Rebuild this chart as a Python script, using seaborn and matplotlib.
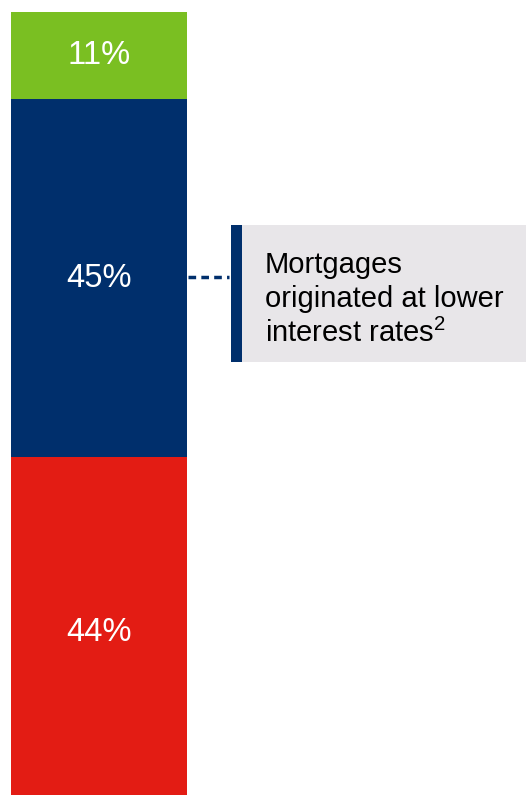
import matplotlib
matplotlib.use("Agg")
import matplotlib.pyplot as plt
import seaborn as sns
import pandas as pd
from matplotlib.patches import Rectangle
from matplotlib.lines import Line2D

sns.set_theme(style="white")
plt.rcParams['font.family'] = ['Liberation Sans', 'DejaVu Sans']
plt.rcParams['mathtext.fontset'] = 'custom'
plt.rcParams['mathtext.rm'] = 'Liberation Sans'
plt.rcParams['mathtext.default'] = 'regular'

# Data (bottom to top)
segments = ["Other", "Lower rates", "Top"]
values = [44, 45, 11]
labels = ["44%", "45%", "11%"]
colors = ["#E31C14", "#002F6C", "#7ABF22"]
annotation_lines = ["Mortgages", "originated at lower", "interest rates$^{2}$"]

W, H = 526, 795
fig = plt.figure(figsize=(W / 100, H / 100), dpi=100)
# bar top at y=12 px, 100% spans 795 px (bottom slightly cropped)
ax = fig.add_axes([11 / W, -12 / H, 176 / W, 795 / H])

bottom = 0
for seg, v, lab, c in zip(segments, values, labels, colors):
    df = pd.DataFrame({"x": ["bar"], "y": [v]})
    sns.barplot(data=df, x="x", y="y", bottom=bottom, color=c, width=1.0,
                saturation=1, ax=ax, edgecolor="none", linewidth=0)
    ax.text(0, bottom + v / 2, lab, ha="center", va="center", color="white",
            fontsize=23.5)
    bottom += v

ax.set_xlim(-0.5, 0.5)
ax.set_ylim(0, 100)
ax.axis("off")

# Annotation box
bx0, by_top, by_bot = 231, 225, 362
fig.patches.append(Rectangle((bx0 / W, 1 - by_bot / H), (W - bx0) / W,
                             (by_bot - by_top) / H, transform=fig.transFigure,
                             facecolor="#E8E6E9", edgecolor="none", zorder=0))
fig.patches.append(Rectangle((bx0 / W, 1 - by_bot / H), 11 / W,
                             (by_bot - by_top) / H, transform=fig.transFigure,
                             facecolor="#002F6C", edgecolor="none", zorder=1))
fig.lines.append(Line2D([188 / W, 229 / W], [1 - 277 / H, 1 - 277 / H],
                        transform=fig.transFigure, color="#002F6C",
                        linestyle=(0, (2.2, 1.5)), linewidth=2.5))
for line, yb in zip(annotation_lines, [273, 307, 342]):
    fig.text(265 / W, 1 - yb / H, line, ha="left", va="baseline",
             fontsize=21, color="black")

fig.savefig("out.png", dpi=100)
